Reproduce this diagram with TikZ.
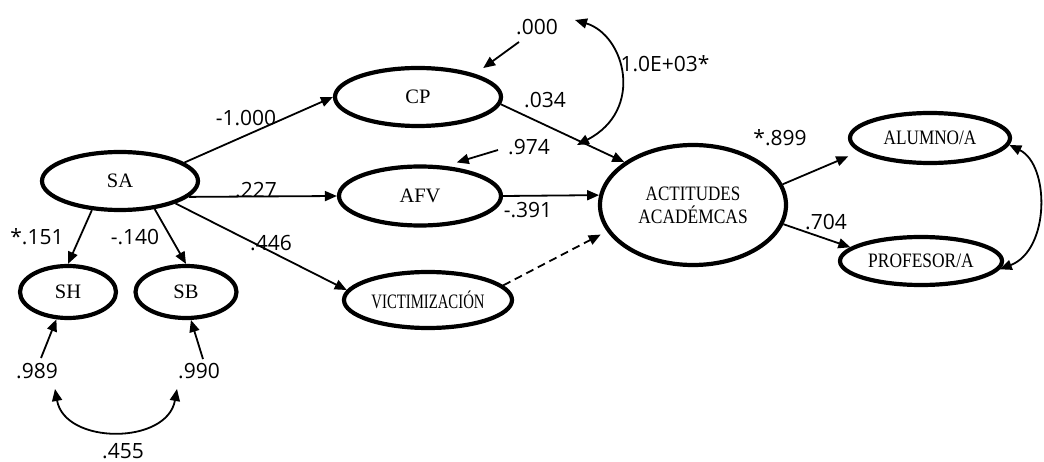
\documentclass[tikz,border=0pt]{standalone}
\usepackage{fontspec}
\usepackage{graphicx}
\usetikzlibrary{shapes.geometric,arrows.meta}
\newfontfamily\coeffont{Open Sans}
\newfontfamily\latentfont{Liberation Serif}
% horizontally condensed text for the long construct names
\newcommand\cond[2]{\scalebox{#1}[1]{#2}}

\begin{document}
\begin{tikzpicture}[x=1pt,y=-1pt,
  latent/.style={ellipse, draw, line width=4.2pt, inner sep=0pt, align=center,
    font=\latentfont\fontsize{20.5}{23}\selectfont},
  coef/.style={inner sep=0pt, font=\coeffont\fontsize{21}{25}\selectfont},
  tip/.style={-{Triangle[length=12pt,width=10pt]}},
  reg/.style={line width=1.8pt, tip},
  nonsig/.style={reg, dash pattern=on 8pt off 5pt},
  corr/.style={line width=1.8pt, {Triangle[length=12pt,width=10pt]}-{Triangle[length=12pt,width=10pt]}}]

\useasboundingbox[fill=white] (0,0) rectangle (1044,462);

% latent variables
\node[latent, minimum width=156pt, minimum height=58pt] (SA) at (120,181) {SA};
\node[latent, minimum width=96pt, minimum height=52pt] (SH) at (68,292) {SH};
\node[latent, minimum width=101pt, minimum height=52pt] (SB) at (186,292) {SB};
\node[latent, minimum width=166pt, minimum height=58pt] (CP) at (418,97) {CP};
\node[latent, minimum width=162pt, minimum height=59pt] (AFV) at (420,196) {AFV};
\node[latent, minimum width=168pt, minimum height=56pt] (VICT) at (428,300) {\cond{0.72}{VICTIMIZACIÓN}};
\node[latent, minimum width=186pt, minimum height=120pt] (ACT) at (693,205) {\cond{0.83}{ACTITUDES}\\\cond{0.85}{ACADÉMCAS}};
\node[latent, minimum width=160pt, minimum height=50pt] (ALUMNO) at (930,138) {\cond{0.84}{ALUMNO/A}};
\node[latent, minimum width=162pt, minimum height=48pt] (PROF) at (921,261) {\cond{0.85}{PROFESOR/A}};

% coefficients
\node[coef] (l1000) at (246,118) {-1.000};
\node[coef] (l227) at (256,190) {.227};
\node[coef] (l446) at (271,243) {.446};
\node[coef] (l151) at (37,237) {*.151};
\node[coef] (l140) at (135,237) {-.140};
\node[coef] (l989) at (37,371) {.989};
\node[coef] (l990) at (199,371) {.990};
\node[coef] (l455) at (123,451) {.455};
\node[coef] (l000) at (537,27) {.000};
\node[coef] (l1e3) at (665,64) {1.0E+03*};
\node[coef] (l034) at (545,100) {.034};
\node[coef] (l974) at (529,147) {.974};
\node[coef] (l391) at (528,210) {-.391};
\node[coef] (l899) at (780,138) {*.899};
\node[coef] (l704) at (826,222) {.704};

% free ends of the correlation arcs
\coordinate (e1) at (55,389);
\coordinate (e2) at (177,389);
\coordinate (cA) at (575,20);
\coordinate (cB) at (577,145);

% structural paths
\draw[reg] (SA.16) -- (CP.west);
\draw[reg] (SA.-13) -- (AFV.west);
\draw[reg] (SA.-22) -- (VICT.173);
\draw[reg] (SA.-134) -- (SH.north);
\draw[reg] (SA.-39) -- (SB.north);
\draw[reg] (CP.-5) -- (ACT.148);
\draw[reg] (AFV.east) -- (ACT.174);
\draw[nonsig, shorten >=7pt] (VICT.11) -- (ACT.197);
\draw[reg, shorten >=12pt] (ACT.13) -- (ALUMNO.191);
\draw[reg] (ACT.-12) -- (PROF.169);

% disturbance terms
\draw[reg, shorten >=10pt] ([shift={(3pt,-7pt)}]l000.south west) -- (CP.22);
\draw[reg, shorten >=12pt] ([shift={(-10pt,-3pt)}]l974.west) -- (AFV.50);
\draw[reg] ([shift={(4pt,5pt)}]l989.north) -- (SH.-113);
\draw[reg] ([shift={(4pt,4pt)}]l990.north) -- (SB.-80);

% correlations
\draw[corr] (e1) .. controls (65,445) and (167,445) .. (e2);
\draw[corr] (cA) .. controls (625,35) and (645,110) .. (cB);
\draw[corr] (ALUMNO.-5) .. controls (1050,165) and (1050,250) .. (PROF.-6);
\end{tikzpicture}
\end{document}
